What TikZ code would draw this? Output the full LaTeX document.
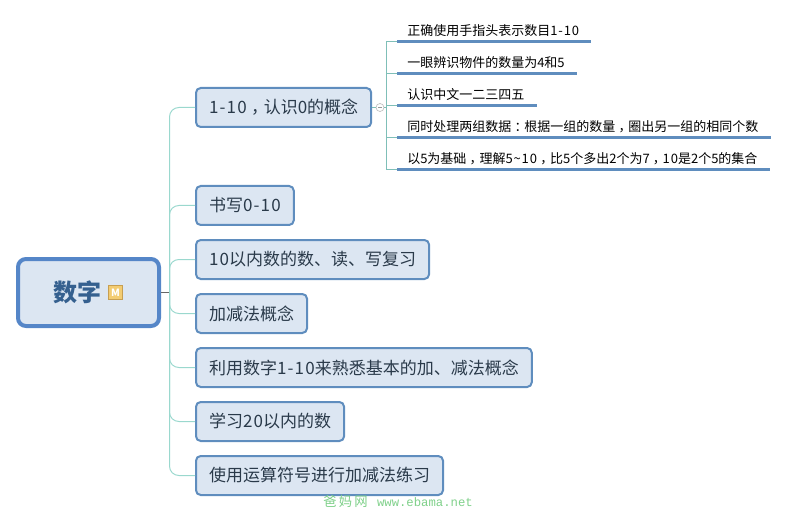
\documentclass[tikz,border=0pt]{standalone}
\usepackage{fontspec}
\setmainfont{Noto Sans CJK SC}
\newfontfamily\wmfont{Liberation Mono}
\usetikzlibrary{positioning}
\newcommand{\zhcomma}{\kern.25em\char"FF0C\kern-.25em\relax}
\newcommand{\zhcolon}{\kern.25em\char"FF1A\kern-.25em\relax}
\newcommand{\digits}[1]{{\addfontfeature{LetterSpace=7}#1}}
\definecolor{boxfill}{HTML}{DCE6F2}
\definecolor{boxline}{HTML}{5F8DBE}
\definecolor{rootline}{HTML}{5586C8}
\definecolor{rootink}{HTML}{35608F}
\definecolor{ink}{HTML}{2A3A4A}
\definecolor{twigcol}{HTML}{9AD8CE}
\definecolor{forkcol}{HTML}{7FBFB8}
\definecolor{markfill}{HTML}{F3CC72}
\definecolor{markline}{HTML}{C79F52}
\definecolor{wmcol}{HTML}{7FD08A}
\tikzset{
  branch/.style={draw=boxline,fill=boxfill,text=ink,line width=1.5pt,rounded corners=3.5pt,
    inner xsep=9.75pt,inner ysep=0pt,minimum height=29.25pt,font=\fontsize{12.75pt}{15pt}\selectfont,outer sep=auto},
  leaf/.style={inner ysep=0pt,inner xsep=0pt,text=black,minimum height=18pt,font=\fontsize{9.75pt}{12pt}\selectfont},
  leafline/.style={draw=boxline,line width=2.25pt},
  twig/.style={draw=twigcol,line width=0.75pt,rounded corners=7pt},
  elbow/.style={to path={|- (\tikztotarget)}}
}
\begin{document}
\begin{tikzpicture}[x=0.75pt,y=-0.75pt,on grid]
   \useasboundingbox (0,0) rectangle (795,513);
   \node[draw=rootline,fill=boxfill,text=rootink,line width=3pt,rounded corners=6pt,minimum width=105.75pt,minimum height=50.25pt,
     inner sep=0pt,font=\fontsize{18pt}{20pt}\selectfont\bfseries] (root) at (88.5,292.5) {数字\kern17.25pt};
   \node[draw=markline,fill=markfill,text=white,line width=0.6pt,minimum size=10pt,inner sep=0pt,
     font=\fontsize{7.5pt}{8pt}\selectfont\bfseries] (marker) [right=20.25pt of root] {M};
   % branches
   \node[branch,anchor=west] (b1) at (195,107.5) {\digits{1-10}\zhcomma 认识\digits{0}的概念};
   \node[branch] (b2) [below=73.5pt of b1.west,anchor=west] {书写\digits{0-10}};
   \node[branch] (b3) [below=40.5pt of b2.west,anchor=west] {\digits{10}以内数的数、读、写复习};
   \node[branch] (b4) [below=40.5pt of b3.west,anchor=west] {加减法概念};
   \node[branch] (b5) [below=40.5pt of b4.west,anchor=west] {利用数字\digits{1-10}来熟悉基本的加、减法概念};
   \node[branch] (b6) [below=40.5pt of b5.west,anchor=west] {学习\digits{20}以内的数};
   \node[branch] (b7) [below=40.5pt of b6.west,anchor=west] {使用运算符号进行加减法练习};
   % leaves of the first branch
   \node[leaf,anchor=south west] (l1) at (407,43) {正确使用手指头表示数目\digits{1-10}};
   \node[leaf] (l2) [below=24pt of l1.south west,anchor=south west] {一眼辨识物件的数量为\digits{4}和\digits{5}};
   \node[leaf] (l3) [below=24pt of l2.south west,anchor=south west] {认识中文一二三四五};
   \node[leaf] (l4) [below=24pt of l3.south west,anchor=south west] {同时处理两组数据\zhcolon 根据一组的数量\zhcomma 圈出另一组的相同个数};
   \node[leaf] (l5) [below=24pt of l4.south west,anchor=south west] {以\digits{5}为基础\zhcomma 理解\digits{5\char"7E 10}\zhcomma 比\digits{5}个多出\digits{2}个为\digits{7}\zhcomma \digits{10}是\digits{2}个\digits{5}的集合};
   \coordinate (hub) at (169.5,292.5);
   \coordinate (fork) at (386,107.5);
   \node[circle,draw=black!25,fill=white,line width=0.5pt,minimum size=6pt,inner sep=0pt,text=black!40] (fold) at (380,107.5) {\rule[0.1pt]{3pt}{0.4pt}};
   \draw[draw=black!60,line width=0.75pt] (root.east) -- (hub);
   \path[twig]
    (hub) edge [elbow] (b1.west)
          edge [elbow] (b2.west)
          edge [elbow] (b3.west)
          edge [elbow] (b4.west)
          edge [elbow] (b5.west)
          edge [elbow] (b6.west)
          edge [elbow] (b7.west);
   \draw[draw=forkcol,line width=0.75pt] (b1.east) -- (fold) -- (fork);
   \path[draw=forkcol,line width=0.75pt]
    (fork) edge [elbow] ([xshift=-7.5pt,yshift=0.75pt]l1.south west)
           edge [elbow] ([xshift=-7.5pt,yshift=0.75pt]l2.south west)
           edge [elbow] ([xshift=-7.5pt,yshift=0.75pt]l3.south west)
           edge [elbow] ([xshift=-7.5pt,yshift=0.75pt]l4.south west)
           edge [elbow] ([xshift=-7.5pt,yshift=0.75pt]l5.south west);
   \draw[leafline] ([xshift=-7.5pt,yshift=0.75pt]l1.south west) -- ([xshift=9pt,yshift=0.75pt]l1.south east);
   \draw[leafline] ([xshift=-7.5pt,yshift=0.75pt]l2.south west) -- ([xshift=9pt,yshift=0.75pt]l2.south east);
   \draw[leafline] ([xshift=-7.5pt,yshift=0.75pt]l3.south west) -- ([xshift=9pt,yshift=0.75pt]l3.south east);
   \draw[leafline] ([xshift=-7.5pt,yshift=0.75pt]l4.south west) -- ([xshift=9pt,yshift=0.75pt]l4.south east);
   \draw[leafline] ([xshift=-7.5pt,yshift=0.75pt]l5.south west) -- ([xshift=9pt,yshift=0.75pt]l5.south east);
   \node[text=wmcol,anchor=west,inner sep=0pt,font=\fontsize{10pt}{12pt}\selectfont] (mark) at (323,501) {爸\,妈\,网\hspace{7pt}{\wmfont\fontsize{9.2pt}{12pt}\selectfont www.ebama.net}};
\end{tikzpicture}
\end{document}
